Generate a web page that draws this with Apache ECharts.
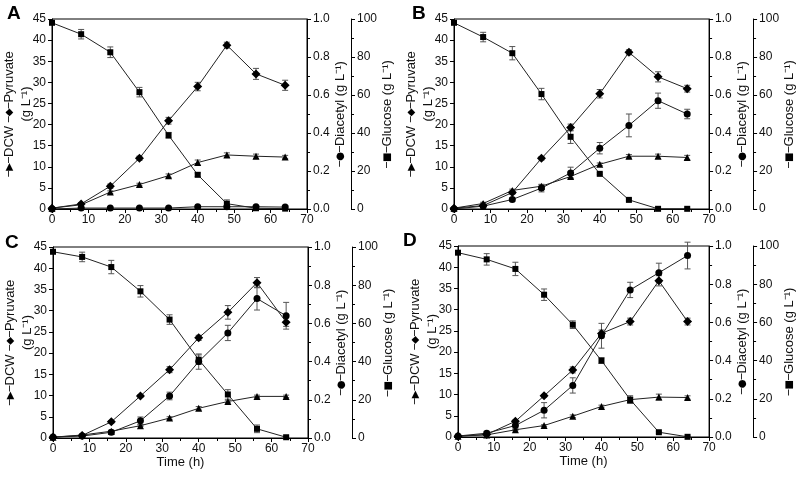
<!DOCTYPE html>
<html>
<head>
<meta charset="utf-8">
<script src="https://cdn.jsdelivr.net/npm/echarts@6/dist/echarts.min.js"></script>
<style>
  html, body { margin: 0; padding: 0; background: #fff; }
  #chart { width: 797px; height: 477px; }
</style>
</head>
<body>
<div id="chart"></div>
<script>
// sampling times (h)
const hours = [0, 8, 16, 24, 32, 40, 48, 56, 64];

// panel A
const pyruvateA = [0.2, 1.2, 5.4, 12.0, 20.9, 29.0, 38.8, 32.0, 29.3];
const pyruvateErrA = [0, 0.3, 0.5, 0.5, 0.8, 1.0, 0.7, 1.3, 1.2];
const dcwA = [0.2, 1.0, 4.0, 5.8, 7.9, 11.0, 12.8, 12.5, 12.3];
const dcwErrA = [0, 0.5, 0.3, 0.3, 0.4, 0.6, 0.5, 0.5, 0.4];
const diacetylA = [0.0, 0.005, 0.005, 0.005, 0.005, 0.012, 0.012, 0.012, 0.01];
const diacetylErrA = [0, 0, 0, 0, 0, 0, 0, 0, 0];
const glucoseA = [98.0, 92.0, 82.5, 61.5, 38.8, 18.0, 2.8, 0.4, 0.2];
const glucoseErrA = [0.5, 2.5, 2.8, 2.5, 1.5, 1.0, 2.0, 0.3, 0.2];

// panel B
const pyruvateB = [0.2, 0.8, 3.9, 12.0, 19.3, 27.3, 37.1, 31.3, 28.5];
const pyruvateErrB = [0, 0.2, 0.4, 0.4, 0.8, 1.0, 0.6, 1.2, 0.8];
const dcwB = [0.2, 1.3, 4.4, 5.4, 7.7, 10.6, 12.5, 12.5, 12.2];
const dcwErrB = [0, 0.3, 0.3, 0.3, 0.3, 0.3, 0.4, 0.5, 0.5];
const diacetylB = [0.0, 0.015, 0.05, 0.11, 0.19, 0.32, 0.44, 0.57, 0.5];
const diacetylErrB = [0, 0.005, 0.01, 0.02, 0.03, 0.03, 0.06, 0.04, 0.025];
const glucoseB = [98.0, 90.5, 82.0, 60.5, 38.0, 18.5, 4.8, 0.1, 0.1];
const glucoseErrB = [0.5, 2.5, 3.5, 3.0, 3.5, 0.5, 0.5, 0.3, 0.3];

// panel C
const pyruvateC = [0.2, 0.6, 3.8, 9.9, 16.1, 23.6, 29.6, 36.6, 27.3];
const pyruvateErrC = [0, 0.2, 0.3, 0.3, 0.7, 0.6, 1.6, 1.2, 1.0];
const dcwC = [0.2, 0.7, 1.6, 2.9, 4.7, 7.0, 8.6, 9.8, 9.8];
const dcwErrC = [0, 0.2, 0.2, 0.2, 0.3, 0.4, 0.3, 0.3, 0.3];
const diacetylC = [0.005, 0.01, 0.03, 0.09, 0.22, 0.4, 0.55, 0.73, 0.64];
const diacetylErrC = [0, 0.005, 0.01, 0.02, 0.02, 0.04, 0.04, 0.06, 0.07];
const glucoseC = [97.5, 94.8, 89.5, 76.8, 62.0, 41.0, 22.8, 4.8, 0.4];
const glucoseErrC = [0.5, 2.5, 3.5, 3.0, 2.5, 2.5, 2.5, 2.0, 0.5];

// panel D
const pyruvateD = [0.2, 0.6, 3.7, 9.7, 15.8, 24.4, 27.2, 36.8, 27.2];
const pyruvateErrD = [0, 0.2, 0.3, 0.3, 0.7, 0.8, 0.8, 1.2, 0.8];
const dcwD = [0.2, 0.5, 1.7, 2.7, 4.9, 7.2, 8.8, 9.4, 9.3];
const dcwErrD = [0, 0.2, 0.2, 0.2, 0.3, 0.3, 0.5, 0.7, 0.4];
const diacetylD = [0.005, 0.02, 0.06, 0.14, 0.27, 0.53, 0.77, 0.86, 0.95];
const diacetylErrD = [0, 0.01, 0.02, 0.04, 0.04, 0.065, 0.04, 0.05, 0.07];
const glucoseD = [96.5, 93.0, 88.0, 74.5, 58.8, 40.0, 19.6, 2.5, 0.1];
const glucoseErrD = [0.5, 3.0, 3.5, 3.0, 2.0, 1.5, 2.0, 0.5, 0.3];

const panels = [
  { label: 'A', grid: { left: 52, top: 19, width: 255, height: 190 }, labelPos: [7, 4], time: false,
    pyr: pyruvateA, pyrErr: pyruvateErrA, dcw: dcwA, dcwErr: dcwErrA,
    dia: diacetylA, diaErr: diacetylErrA, glc: glucoseA, glcErr: glucoseErrA },
  { label: 'B', grid: { left: 454, top: 19, width: 258, height: 190 }, labelPos: [412, 4], time: false,
    pyr: pyruvateB, pyrErr: pyruvateErrB, dcw: dcwB, dcwErr: dcwErrB,
    dia: diacetylB, diaErr: diacetylErrB, glc: glucoseB, glcErr: glucoseErrB },
  { label: 'C', grid: { left: 53, top: 247, width: 255, height: 191 }, labelPos: [5, 233], time: true,
    pyr: pyruvateC, pyrErr: pyruvateErrC, dcw: dcwC, dcwErr: dcwErrC,
    dia: diacetylC, diaErr: diacetylErrC, glc: glucoseC, glcErr: glucoseErrC },
  { label: 'D', grid: { left: 458, top: 246, width: 254, height: 191 }, labelPos: [403, 231], time: true,
    pyr: pyruvateD, pyrErr: pyruvateErrD, dcw: dcwD, dcwErr: dcwErrD,
    dia: diacetylD, diaErr: diacetylErrD, glc: glucoseD, glcErr: glucoseErrD }
];

const FONT = 'Liberation Sans, Arial, sans-serif';
const axisLine = { show: true, lineStyle: { color: '#000', width: 1 } };
const axisTick = { show: true, inside: false, length: 4, lineStyle: { color: '#000', width: 1 } };
const minorTick = { show: true, splitNumber: 2, length: 3, lineStyle: { color: '#000', width: 1 } };
const tickLabel = { color: '#111', fontSize: 12, fontFamily: FONT, margin: 6 };
// marker glyphs inside the rotated axis names
const nameStyle = {
  color: '#111', fontSize: 13, fontFamily: FONT,
  rich: { mk: { fontSize: 10, color: '#000', fontFamily: 'DejaVu Sans' } }
};

const grids = [], xAxes = [], yAxes = [], series = [], graphics = [];

function pts(vals, errs) {
  return hours.map((t, i) => [t, vals[i], errs[i]]);
}

function errorSeries(gi, yi, vals, errs) {
  return {
    type: 'custom', xAxisIndex: gi, yAxisIndex: yi, z: 2, silent: true, animation: false,
    encode: { x: 0, y: 1 },
    data: pts(vals, errs),
    renderItem: (params, api) => {
      const x = api.value(0), y = api.value(1), e = api.value(2);
      if (!e) return null;
      const lo = api.coord([x, y - e]);
      const hi = api.coord([x, y + e]);
      const w = 3;
      const st = { stroke: '#555', lineWidth: 1 };
      return {
        type: 'group',
        children: [
          { type: 'line', shape: { x1: lo[0], y1: lo[1], x2: hi[0], y2: hi[1] }, style: st },
          { type: 'line', shape: { x1: lo[0] - w, y1: lo[1], x2: lo[0] + w, y2: lo[1] }, style: st },
          { type: 'line', shape: { x1: hi[0] - w, y1: hi[1], x2: hi[0] + w, y2: hi[1] }, style: st }
        ]
      };
    }
  };
}

function lineSeries(name, gi, yi, vals, errs, symbol, size) {
  return {
    name: name, type: 'line', xAxisIndex: gi, yAxisIndex: yi, z: 3, animation: false,
    data: pts(vals, errs),
    symbol: symbol, symbolSize: size, showAllSymbol: true,
    lineStyle: { color: '#222', width: 1 },
    itemStyle: { color: '#000', borderWidth: 0 }
  };
}

panels.forEach((p, gi) => {
  grids.push(Object.assign({ show: true, borderColor: '#000', borderWidth: 1, backgroundColor: 'transparent' }, p.grid));

  xAxes.push({
    gridIndex: gi, type: 'value', min: 0, max: 70, interval: 10,
    name: p.time ? 'Time (h)' : '', nameLocation: 'middle', nameGap: 12,
    nameTextStyle: { color: '#111', fontSize: 13, fontFamily: FONT },
    axisLine: axisLine, axisTick: axisTick, minorTick: minorTick,
    axisLabel: Object.assign({}, tickLabel, { margin: 5 }),
    splitLine: { show: false }
  });

  const base = yAxes.length;
  // ▶ turns into an upright triangle once the name is rotated
  yAxes.push({
    gridIndex: gi, type: 'value', position: 'left', min: 0, max: 45, interval: 5,
    name: '{mk|─▶─}DCW {mk|─◆─}Pyruvate', nameLocation: 'middle', nameRotate: 90, nameGap: 36,
    nameTextStyle: nameStyle,
    axisLine: axisLine, axisTick: axisTick,
    axisLabel: tickLabel, splitLine: { show: false }
  });
  yAxes.push({
    gridIndex: gi, type: 'value', position: 'right', min: 0, max: 1, interval: 0.2,
    name: '{mk|─●─}Diacetyl (g L⁻¹)', nameLocation: 'middle', nameRotate: 90, nameGap: 22,
    nameTextStyle: nameStyle,
    axisLine: axisLine, axisTick: axisTick, minorTick: minorTick,
    axisLabel: Object.assign({}, tickLabel, { formatter: v => v.toFixed(1) }),
    splitLine: { show: false }
  });
  yAxes.push({
    gridIndex: gi, type: 'value', position: 'right', offset: 44, min: 0, max: 100, interval: 20,
    name: '{mk|─■─}Glucose (g L⁻¹)', nameLocation: 'middle', nameRotate: 90, nameGap: 25,
    nameTextStyle: nameStyle,
    axisLine: axisLine, axisTick: axisTick, minorTick: minorTick,
    axisLabel: tickLabel, splitLine: { show: false }
  });

  series.push(errorSeries(gi, base + 2, p.glc, p.glcErr));
  series.push(errorSeries(gi, base, p.pyr, p.pyrErr));
  series.push(errorSeries(gi, base, p.dcw, p.dcwErr));
  series.push(errorSeries(gi, base + 1, p.dia, p.diaErr));
  series.push(lineSeries('Glucose', gi, base + 2, p.glc, p.glcErr, 'rect', 6));
  series.push(lineSeries('Pyruvate', gi, base, p.pyr, p.pyrErr, 'diamond', 9));
  series.push(lineSeries('DCW', gi, base, p.dcw, p.dcwErr, 'triangle', 7));
  series.push(lineSeries('Diacetyl', gi, base + 1, p.dia, p.diaErr, 'circle', 7));

  // panel letter
  graphics.push({
    type: 'text', left: p.labelPos[0], top: p.labelPos[1],
    style: { text: p.label, fontSize: 19, fontWeight: 'bold', fontFamily: FONT, fill: '#000' }
  });
  // second line of the left axis title
  graphics.push({
    type: 'text', x: p.grid.left - 26, y: p.grid.top + p.grid.height / 2 - 10, rotation: Math.PI / 2,
    style: { text: '(g L⁻¹)', fontSize: 13, fontFamily: FONT, fill: '#111', align: 'center', verticalAlign: 'middle' }
  });
});

const chart = echarts.init(document.getElementById('chart'), null, { renderer: 'canvas' });
chart.setOption({
  backgroundColor: '#fff',
  animation: false,
  textStyle: { fontFamily: FONT },
  grid: grids,
  xAxis: xAxes,
  yAxis: yAxes,
  series: series,
  graphic: graphics
});
</script>
</body>
</html>
